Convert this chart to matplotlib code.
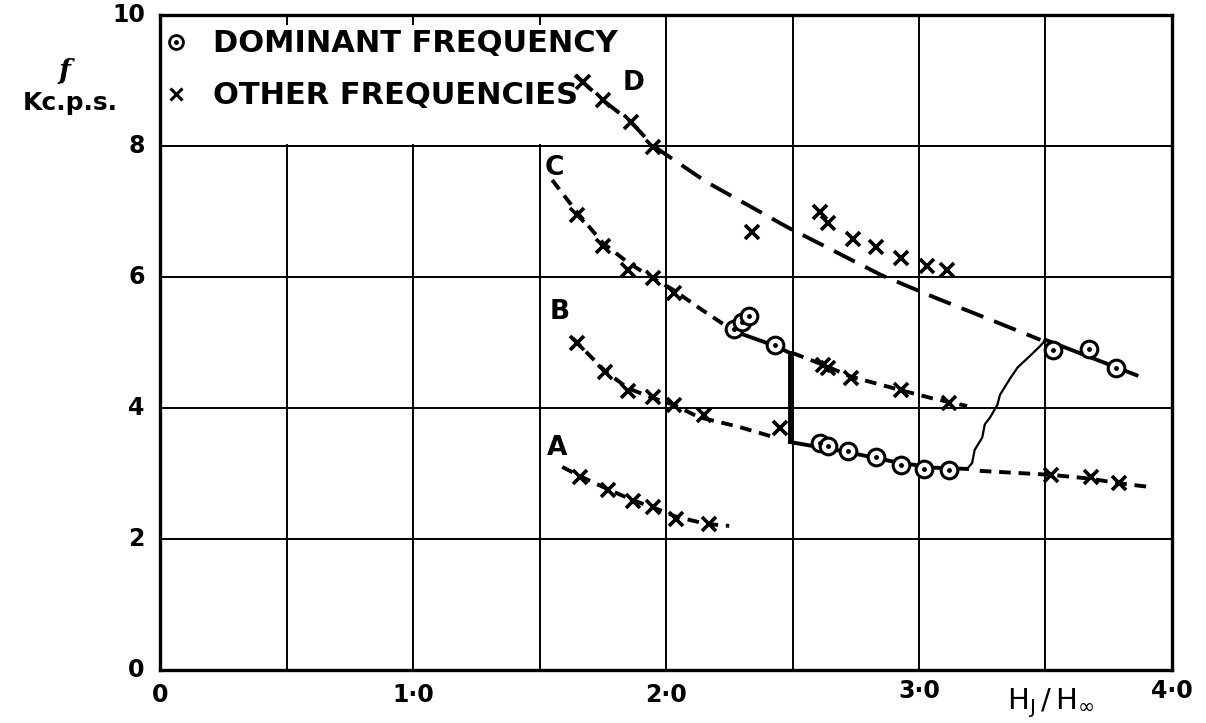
import matplotlib
matplotlib.use("Agg")
import matplotlib.pyplot as plt
from matplotlib.lines import Line2D
from matplotlib.patches import Rectangle

# ---- measured points: H_J/H_inf vs f (kc/s) ----
# dominant frequency (circled points)
dom_b_x = [2.61, 2.64, 2.72, 2.83, 2.93, 3.02, 3.12]
dom_b_f = [3.47, 3.42, 3.34, 3.25, 3.13, 3.07, 3.05]
dom_c_x = [2.27, 2.30, 2.33, 2.43]
dom_c_f = [5.20, 5.31, 5.40, 4.96]
dom_d_x = [3.53, 3.67, 3.78]
dom_d_f = [4.89, 4.90, 4.61]

# other frequencies (crosses)
oth_a_x = [1.66, 1.77, 1.87, 1.95, 2.04, 2.17]
oth_a_f = [2.95, 2.75, 2.58, 2.49, 2.31, 2.23]
oth_b_x = [1.65, 1.76, 1.85, 1.95, 2.03, 2.15, 2.45, 3.52, 3.68, 3.79]
oth_b_f = [4.99, 4.55, 4.26, 4.17, 4.05, 3.89, 3.69, 2.98, 2.94, 2.85]
oth_c_x = [1.65, 1.75, 1.85, 1.95, 2.03, 2.62, 2.64, 2.73, 2.93, 3.12]
oth_c_f = [6.95, 6.47, 6.11, 5.98, 5.76, 4.66, 4.61, 4.46, 4.27, 4.08]
oth_d_x = [1.67, 1.75, 1.86, 1.95, 2.34, 2.61, 2.64, 2.74, 2.83, 2.93, 3.03, 3.11]
oth_d_f = [8.98, 8.70, 8.37, 7.98, 6.69, 6.99, 6.82, 6.58, 6.46, 6.29, 6.17, 6.11]

# ---- faired curves drawn through the points ----
a_dash_x = [1.59, 1.66, 1.77, 1.87, 1.95, 2.04, 2.16, 2.25]
a_dash_f = [3.10, 2.96, 2.76, 2.59, 2.48, 2.34, 2.23, 2.20]

b_dash_x = [1.63, 1.65, 1.76, 1.85, 1.95, 2.03, 2.13, 2.29, 2.44]
b_dash_f = [5.07, 4.99, 4.56, 4.30, 4.15, 4.05, 3.86, 3.71, 3.54]
b_solid_x = [2.49, 2.70, 2.90, 3.05, 3.19]
b_solid_f = [3.48, 3.34, 3.18, 3.09, 3.07]
b_tail_x = [3.24, 3.52, 3.68, 3.79, 3.90]
b_tail_f = [3.04, 2.98, 2.92, 2.85, 2.80]

c_dash_x = [1.55, 1.65, 1.75, 1.85, 1.94, 2.03, 2.13, 2.25]
c_dash_f = [7.48, 6.98, 6.52, 6.22, 6.00, 5.80, 5.53, 5.22]
c_solid_x = [2.27, 2.43, 2.49]
c_solid_f = [5.17, 4.95, 4.84]
c_tail_x = [2.50, 2.62, 2.73, 2.93, 3.05, 3.19]
c_tail_f = [4.84, 4.66, 4.48, 4.27, 4.15, 4.03]

d_dash_x = [1.64, 1.67, 1.75, 1.86, 1.95, 2.16, 2.48, 2.85, 3.06, 3.30, 3.48]
d_dash_f = [9.08, 8.98, 8.70, 8.37, 8.00, 7.45, 6.76, 6.03, 5.69, 5.32, 5.04]
d_solid_x = [3.50, 3.86]
d_solid_f = [5.04, 4.50]

# jump of the dominant frequency from B back up to D
jump_x = [3.19, 3.21, 3.22, 3.25, 3.26, 3.28, 3.31, 3.32, 3.36, 3.39, 3.44, 3.48, 3.50]
jump_f = [3.07, 3.16, 3.36, 3.55, 3.75, 3.85, 4.05, 4.20, 4.45, 4.62, 4.80, 4.95, 5.04]

# vertical drop from C to B at H_J/H_inf = 2.49
drop_x = [2.49, 2.49]
drop_f = [4.84, 3.48]

curve_names = ["A", "B", "C", "D"]
name_x = [1.57, 1.58, 1.56, 1.87]
name_f = [3.39, 5.47, 7.66, 8.96]

xtick_vals = [0, 0.5, 1.0, 1.5, 2.0, 2.5, 3.0, 3.5, 4.0]
xtick_text = ["0", "", "1·0", "", "2·0", "", "3·0", "", "4·0"]
ytick_vals = [0, 2, 4, 6, 8, 10]
ytick_text = ["0", "2", "4", "6", "8", "10"]

plt.rcParams["font.family"] = ["DejaVu Sans"]
plt.rcParams["mathtext.fontset"] = "dejavusans"

fig = plt.figure(figsize=(12.06, 7.23), dpi=100)
ax = fig.add_axes([0.1327, 0.0733, 0.8391, 0.906])
ax.set_xlim(0, 4)
ax.set_ylim(0, 10)

ax.set_xticks(xtick_vals)
ax.set_xticklabels([])
ax.set_yticks(ytick_vals)
ax.set_yticklabels([])
ax.tick_params(length=0)
ax.grid(True, color="black", lw=1.4)
ax.set_axisbelow(True)
for s in ax.spines.values():
    s.set_linewidth(2.4)

# tick labels placed by hand so the x ones can sit unevenly like the lettering
for v, t in zip(xtick_vals, xtick_text):
    if t:
        off = -0.32 if v >= 3 else -0.38
        ax.text(v, off, t, ha="center", va="center", fontsize=17, weight="bold",
                clip_on=False)
for v, t in zip(ytick_vals, ytick_text):
    ax.text(-0.06, v, t, ha="right", va="center", fontsize=17, weight="bold", clip_on=False)

ax.text(3.52, -0.5, r"$\mathrm{H_J\,/\,H_\infty}$", ha="center", va="center",
        fontsize=21, clip_on=False)
fig.text(65 / 1206, 1 - 72 / 723, "f", style="italic", family="DejaVu Serif",
         fontsize=20, weight="bold", ha="center", va="center")
fig.text(70 / 1206, 1 - 103 / 723, "Kc.p.s.", fontsize=18, weight="bold",
         ha="center", va="center")

# white block behind the key
ax.add_patch(Rectangle((0, 8.03), 2.0 - 0.012, 1.82, facecolor="white",
                       edgecolor="none", zorder=1.5))

lw = 2.8
ax.plot(a_dash_x, a_dash_f, color="black", lw=lw, dashes=(3, 2), zorder=3)
ax.plot(b_dash_x, b_dash_f, color="black", lw=lw, dashes=(3, 2), zorder=3)
ax.plot(b_tail_x, b_tail_f, color="black", lw=lw, dashes=(3, 2), zorder=3)
ax.plot(c_dash_x, c_dash_f, color="black", lw=lw, dashes=(3, 2), zorder=3)
ax.plot(c_tail_x, c_tail_f, color="black", lw=lw, dashes=(3, 2), zorder=3)
ax.plot(d_dash_x, d_dash_f, color="black", lw=lw, dashes=(6, 3), zorder=3)

ax.plot(b_solid_x, b_solid_f, color="black", lw=lw, zorder=3)
ax.plot(c_solid_x, c_solid_f, color="black", lw=lw, zorder=3)
ax.plot(d_solid_x, d_solid_f, color="black", lw=lw, zorder=3)
ax.plot(drop_x, drop_f, color="black", lw=lw, zorder=3)
ax.plot(jump_x, jump_f, color="black", lw=1.6, zorder=3)

for xs, fs in [(oth_a_x, oth_a_f), (oth_b_x, oth_b_f), (oth_c_x, oth_c_f), (oth_d_x, oth_d_f)]:
    ax.plot(xs, fs, ls="none", marker="x", ms=10, mew=2.6, color="black", zorder=4)

for xs, fs in [(dom_b_x, dom_b_f), (dom_c_x, dom_c_f), (dom_d_x, dom_d_f)]:
    ax.plot(xs, fs, ls="none", marker="o", ms=12, mew=2.2, mfc="white", mec="black", zorder=5)
    ax.plot(xs, fs, ls="none", marker="o", ms=2.5, color="black", zorder=6)

for n, x, f in zip(curve_names, name_x, name_f):
    ax.text(x, f, n, ha="center", va="center", fontsize=19, weight="bold", zorder=6)

h_dom = (Line2D([], [], ls="none", marker="o", ms=10, mew=2.0, mfc="white", mec="black"),
         Line2D([], [], ls="none", marker="o", ms=2.5, color="black"))
h_oth = Line2D([], [], ls="none", marker="x", ms=8, mew=2.2, color="black")
leg = ax.legend([h_dom, h_oth], ["DOMINANT FREQUENCY", "OTHER FREQUENCIES"],
                loc="upper left", bbox_to_anchor=(0.004, 0.978), frameon=False,
                prop={"size": 22, "weight": "bold"}, handlelength=0.8,
                handletextpad=0.8, labelspacing=0.75, borderpad=0, borderaxespad=0)
leg.set_zorder(7)

fig.savefig("out.png", dpi=100)
